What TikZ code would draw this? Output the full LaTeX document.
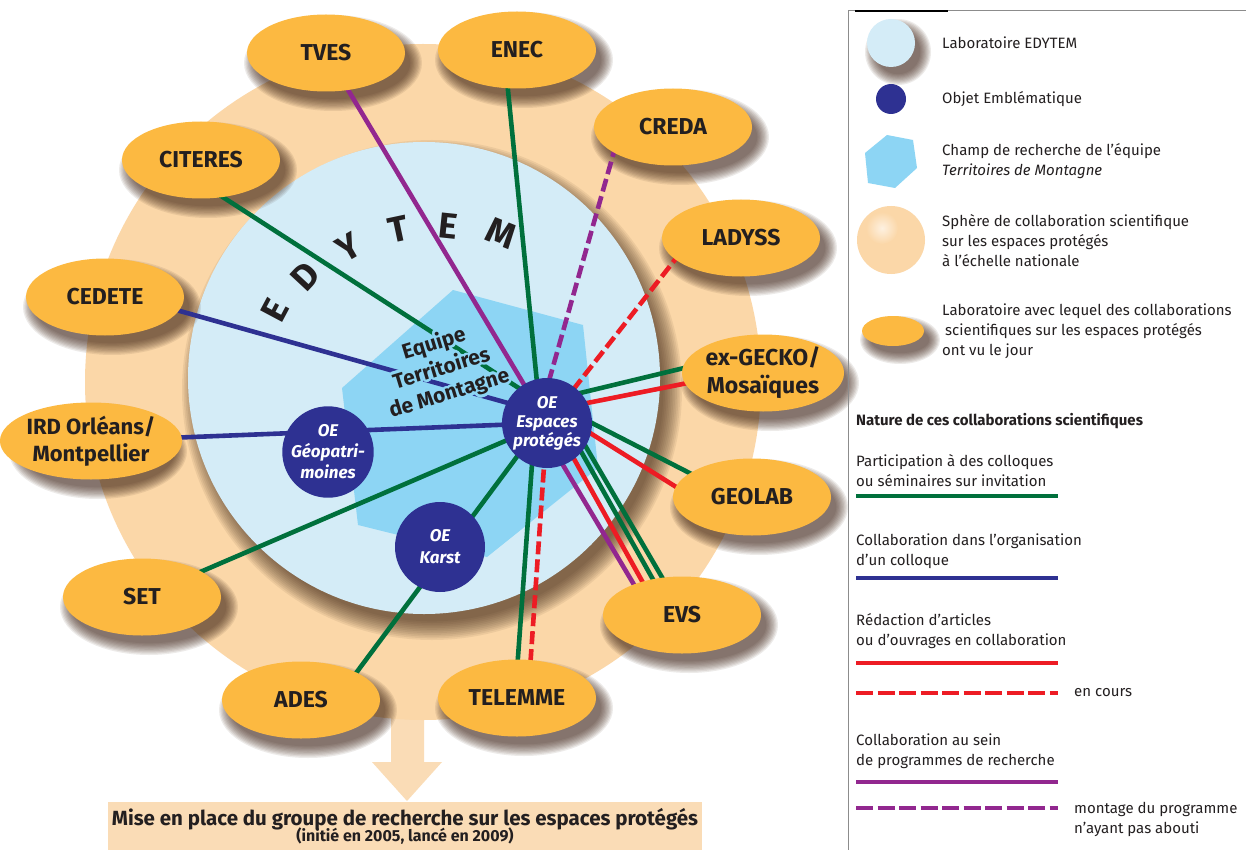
\documentclass[tikz,border=0pt]{standalone}
\usepackage{fontspec}
\setmainfont{Fira Sans}
\usepackage{contour}
\contourlength{2.5pt}
\contournumber{24}
\usetikzlibrary{shapes.geometric,calc}
\definecolor{navy}{RGB}{46,49,146}
\definecolor{grn}{RGB}{0,112,60}
\definecolor{redc}{RGB}{237,28,36}
\definecolor{purp}{RGB}{146,39,143}
\definecolor{orng}{RGB}{252,185,65}
\definecolor{peach}{RGB}{251,215,168}
\definecolor{peachbox}{RGB}{250,220,182}
\definecolor{lblue}{RGB}{212,236,247}
\definecolor{hexcol}{RGB}{141,213,244}
\definecolor{txt}{RGB}{35,31,32}
\definecolor{shad}{RGB}{60,35,20}
\pgfdeclarelayer{bg}
\pgfdeclarelayer{lines}
\pgfsetlayers{bg,lines,main}
\begin{document}
\begin{tikzpicture}[x=1pt,y=-1pt,
  lab/.style={ellipse, fill=orng, minimum width=158pt, minimum height=77pt, inner sep=0pt,
    font=\fontsize{23}{28}\selectfont\bfseries, text=txt, align=center},
  oe/.style={circle, fill=navy, minimum size=90pt, inner sep=0pt, text=white,
    font=\fontsize{17}{19}\selectfont\bfseries\itshape, align=center},
  lnk/.style={line width=4.6pt},
  gr/.style={lnk, draw=grn},
  bl/.style={lnk, draw=navy},
  rd/.style={lnk, draw=redc},
  pu/.style={lnk, draw=purp},
  rdd/.style={rd, dash pattern=on 13pt off 5pt},
  pud/.style={pu, dash pattern=on 13pt off 5pt},
  letter/.style={font=\fontsize{36}{36}\selectfont\bfseries, text=txt, inner sep=0pt},
  lgt/.style={anchor=west, align=left, font=\fontsize{15}{20}\selectfont, text=txt, inner sep=0pt},
  lgline/.style={line width=4.6pt},
  softshadow/.style={shad, opacity=0.09},
]
\useasboundingbox (0,0) rectangle (1246,850);

\begin{pgfonlayer}{bg}
  \fill[white] (0,0) rectangle (1246,850);
  % arrow to bottom box
  \fill[peachbox] (391,690) -- (424,690) -- (424,762) -- (442,762) -- (407,801) -- (372,762) -- (391,762) -- cycle;
  \node[circle, fill=peach, minimum size=676pt, inner sep=0pt] (sphere) at (423,382) {};
  % soft shadow of the EDYTEM disc
  \foreach \k in {0,...,11} {
    \fill[shad, opacity=0.075] (432,390) circle ({236+14-\k*1.7});
  }
  \node[circle, fill=lblue, minimum size=472pt, inner sep=0pt] (edytem) at (424,378) {};
  \fill[hexcol] (453,290) -- (583,325) -- (598,468) -- (487,557) -- (358,525) -- (342,388) -- cycle;
\end{pgfonlayer}

% laboratories
\node[lab] (tves) at (326,53) {TVES};
\node[lab] (enec) at (517,50) {ENEC};
\node[lab] (creda) at (673,127) {CREDA};
\node[lab] (citeres) at (201,160) {CITERES};
\node[lab] (ladyss) at (741,238) {LADYSS};
\node[lab] (cedete) at (105,297) {CEDETE};
\node[lab] (gecko) at (763,373) {ex-GECKO/\\Mosaïques};
\node[lab, font=\fontsize{22}{27}\selectfont\bfseries] (ird) at (91,441) {IRD Orléans/\\Montpellier};
\node[lab] (geolab) at (752,497) {GEOLAB};
\node[lab] (set) at (142,597) {SET};
\node[lab] (evs) at (682,615) {EVS};
\node[lab] (ades) at (301,700) {ADES};
\node[lab] (telemme) at (517,698) {TELEMME};

% shadows of the laboratory ellipses
\begin{pgfonlayer}{bg}
  \foreach \n in {tves,enec,creda,citeres,ladyss,cedete,gecko,ird,geolab,set,evs,ades,telemme} {
    \foreach \k in {0,...,9} {
      \fill[softshadow] ($(\n)+(7,10)$) ellipse ({89-\k*1.3} and {48-\k*1.3});
    }
  }
\end{pgfonlayer}

% emblematic objects
\node[oe] (ep) at (547,423) {OE\\Espaces\\protégés};
\node[oe, minimum size=86pt, font=\fontsize{17}{21}\selectfont\bfseries\itshape] (geo) at (328,452) {OE\\Géopatri-\\moines};
\node[oe, font=\fontsize{17}{22}\selectfont\bfseries\itshape] (karst) at (440,547) {OE\\Karst};

% team label
\node[rotate=17, align=center, font=\fontsize{21}{26}\selectfont\bfseries, text=txt] (equipe) at (442,370)
  {\contour{hexcol}{Equipe}\\\contour{hexcol}{Territoires}\\\contour{hexcol}{de Montagne}};

% EDYTEM letters
\node[letter, rotate=62] (l1) at (275,310) {E};
\node[letter, rotate=47] (l2) at (305,276) {D};
\node[letter, rotate=30] (l3) at (349,247) {Y};
\node[letter, rotate=12] (l4) at (398,229) {T};
\node[letter, rotate=-6] (l5) at (448,226) {E};
\node[letter, rotate=-22] (l6) at (501,233) {M};

% connectors
\begin{pgfonlayer}{lines}
  \draw[pu] (tves.center) -- (ep.center);
  \draw[gr] ($(enec)+(-13,0)$) -- ($(ep)+(-6,0)$);
  \draw[pud] ($(creda)+(-52,0)$) -- ($(ep)+(-10,0)$);
  \draw[gr] ($(citeres)+(0,23)$) -- ($(ep)+(-2,-18)$);
  \draw[rdd] ($(ladyss)+(-49,0)$) -- (ep.center);
  \draw[bl] ($(cedete)+(0,-7)$) -- ($(ep)+(0,-9)$);
  \draw[gr] ($(gecko)+(0,-24)$) -- ($(ep)+(0,-22)$);
  \draw[rd] ($(gecko)+(0,-5)$) -- ($(ep)+(0,-12)$);
  \draw[bl] (ird.center) -- (ep.center);
  \draw[gr] ($(geolab)+(0,8)$) -- ($(ep)+(0,-23)$);
  \draw[rd] ($(geolab)+(-20,25)$) -- ($(ep)+(0,-17)$);
  \draw[gr] (set.center) -- (ep.center);
  \draw[pu] ($(evs)+(-30,0)$) -- ($(ep)+(-9,0)$);
  \draw[rd] ($(evs)+(-21,0)$) -- ($(ep)+(7,0)$);
  \draw[gr] ($(evs)+(-9,0)$) -- ($(ep)+(18,0)$);
  \draw[gr] ($(evs)+(2,0)$) -- ($(ep)+(25,0)$);
  \draw[gr] ($(ades)+(35,0)$) -- ($(ep)+(-5,0)$);
  \draw[gr] ($(telemme)+(-2,0)$) -- ($(ep)+(-12,0)$);
  \draw[rdd] ($(telemme)+(11,0)$) -- (ep.center);
\end{pgfonlayer}

% bottom box
\node[fill=peachbox, minimum width=594pt, minimum height=48pt, inner sep=0pt, align=center, text=txt] (box) at (405,826)
  {{\fontsize{20.5}{22}\selectfont\bfseries Mise en place du groupe de recherche sur les espaces protégés}\\[-3pt]
   {\fontsize{16}{17}\selectfont\bfseries (initié en 2005, lancé en 2009)}};

% legend frame
\draw[black!45, line width=1pt] (848,850) -- (848,11) -- (1246,11);
\draw[black, line width=2.5pt] (855,11) -- (948,11);

% legend symbols
\foreach \k in {0,...,9} {
  \fill[softshadow] (898,52) circle ({33-\k*1.2});
  \fill[softshadow] (900,340) ellipse ({40-\k*1.2} and {24-\k*1.2});
}
\node[circle, fill=lblue, minimum size=48pt, inner sep=0pt] (lg1) at (891,43) {};
\node[circle, fill=navy, minimum size=30pt, inner sep=0pt] (lg2) at (891,99) {};
\fill[hexcol] (887,135) -- (913,140) -- (917,168) -- (895,188) -- (868,183) -- (865,153) -- cycle;
\fill[peach] (891,240) circle (34);
\shade[inner color=peach!35!white, outer color=peach] (882,228) circle (16);
\node[ellipse, fill=orng, minimum width=62pt, minimum height=30pt, inner sep=0pt] (lg5) at (893,331) {};

% legend texts
\node[lgt] (t1) at (942,43) {Laboratoire EDYTEM};
\node[lgt] (t2) at (942,99) {Objet Emblématique};
\node[lgt] (t3) at (942,161) {Champ de recherche de l’équipe\\\textit{Territoires de Montagne}};
\node[lgt] (t4) at (942,241) {Sphère de collaboration scientifique\\sur les espaces protégés\\à l’échelle nationale};
\node[lgt] (t5) at (942,331) {Laboratoire avec lequel des collaborations\\\hspace{3pt}scientifiques sur les espaces protégés\\ont vu le jour};
\node[lgt, font=\fontsize{15}{20}\selectfont\bfseries] (t6) at (856,421) {Nature de ces collaborations scientifiques};
\node[lgt] (t7) at (856,471) {Participation à des colloques\\ou séminaires sur invitation};
\draw[lgline, grn] (856,496) -- (1058,496);
\node[lgt] (t8) at (856,551) {Collaboration dans l’organisation\\d’un colloque};
\draw[lgline, navy] (856,578) -- (1058,578);
\node[lgt] (t9) at (856,631) {Rédaction d’articles\\ou d’ouvrages en collaboration};
\draw[lgline, redc] (856,663) -- (1058,663);
\draw[lgline, redc, dash pattern=on 17pt off 4.5pt] (856,693) -- (1058,693);
\node[lgt] (t10) at (1074,693) {en cours};
\node[lgt] (t11) at (856,751) {Collaboration au sein\\de programmes de recherche};
\draw[lgline, purp] (856,782) -- (1058,782);
\draw[lgline, purp, dash pattern=on 17pt off 4.5pt] (856,808) -- (1058,808);
\node[lgt] (t12) at (1074,819) {montage du programme\\n’ayant pas abouti};
\end{tikzpicture}
\end{document}
